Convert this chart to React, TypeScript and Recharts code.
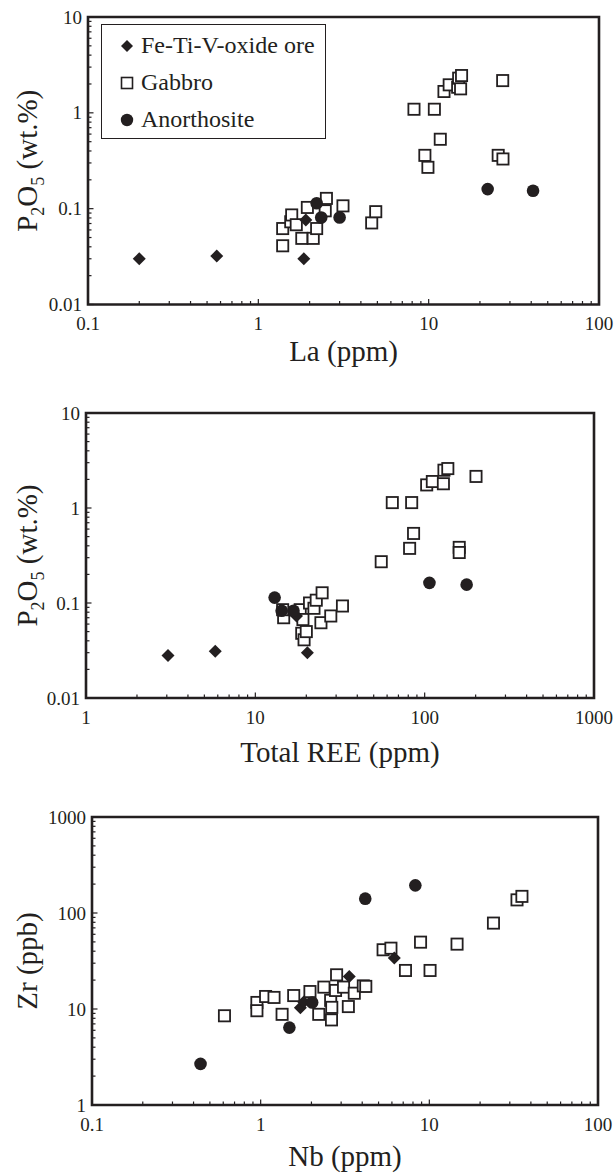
import React from "react";
import { ScatterChart, Scatter, XAxis, YAxis, ReferenceArea, Legend } from "recharts";

const INK = "#231f20";
const SERIF = '"Liberation Serif", "Times New Roman", serif';

const seriesNames = ["Fe-Ti-V-oxide ore", "Gabbro", "Anorthosite"];

// panel 1: La (ppm) vs P2O5 (wt.%)
const oreLa = [
  { x: 0.2, y: 0.03 }, { x: 0.57, y: 0.032 }, { x: 1.85, y: 0.03 }, { x: 1.9, y: 0.076 },
];
const gabbroLa = [
  { x: 1.39, y: 0.062 }, { x: 1.39, y: 0.041 }, { x: 1.55, y: 0.073 }, { x: 1.57, y: 0.086 },
  { x: 1.67, y: 0.068 }, { x: 1.8, y: 0.049 }, { x: 1.94, y: 0.103 }, { x: 2.1, y: 0.049 },
  { x: 2.2, y: 0.062 }, { x: 2.47, y: 0.095 }, { x: 2.51, y: 0.128 }, { x: 3.14, y: 0.107 },
  { x: 4.63, y: 0.071 }, { x: 4.89, y: 0.093 },
  { x: 8.2, y: 1.09 }, { x: 10.8, y: 1.09 }, { x: 11.7, y: 0.53 }, { x: 9.5, y: 0.36 },
  { x: 9.9, y: 0.27 }, { x: 12.3, y: 1.67 }, { x: 13.2, y: 1.96 }, { x: 14.8, y: 1.85 },
  { x: 15.0, y: 2.3 }, { x: 15.6, y: 2.45 }, { x: 15.4, y: 1.78 }, { x: 27.2, y: 2.17 },
  { x: 25.6, y: 0.36 }, { x: 27.3, y: 0.33 },
];
const anoLa = [
  { x: 2.2, y: 0.114 }, { x: 2.34, y: 0.081 }, { x: 3.0, y: 0.081 }, { x: 22.2, y: 0.16 }, { x: 41, y: 0.154 },
];

// panel 2: Total REE (ppm) vs P2O5 (wt.%)
const oreRee = [
  { x: 3.05, y: 0.028 }, { x: 5.8, y: 0.031 }, { x: 20.3, y: 0.03 }, { x: 17.5, y: 0.073 },
];
const gabbroRee = [
  { x: 14.7, y: 0.07 }, { x: 14.5, y: 0.085 }, { x: 18.4, y: 0.085 }, { x: 19.1, y: 0.067 },
  { x: 18.8, y: 0.048 }, { x: 19.4, y: 0.041 }, { x: 20, y: 0.05 }, { x: 20.9, y: 0.1 },
  { x: 22.2, y: 0.088 }, { x: 22.9, y: 0.107 }, { x: 24.8, y: 0.128 }, { x: 24.4, y: 0.062 },
  { x: 27.9, y: 0.073 }, { x: 32.7, y: 0.093 },
  { x: 64.4, y: 1.14 }, { x: 83.8, y: 1.14 }, { x: 86, y: 0.54 }, { x: 81.5, y: 0.376 },
  { x: 55.4, y: 0.272 }, { x: 102.8, y: 1.75 }, { x: 111, y: 1.9 }, { x: 129, y: 1.8 },
  { x: 130, y: 2.5 }, { x: 137, y: 2.6 }, { x: 201, y: 2.15 }, { x: 160, y: 0.385 }, { x: 160, y: 0.34 },
];
const anoRee = [
  { x: 13, y: 0.114 }, { x: 14.3, y: 0.083 }, { x: 16.8, y: 0.083 }, { x: 106.7, y: 0.163 }, { x: 177, y: 0.156 },
];

// panel 3: Nb (ppm) vs Zr (ppb)
const oreNb = [
  { x: 1.72, y: 10.3 }, { x: 1.8, y: 11.8 }, { x: 3.35, y: 21.8 }, { x: 6.2, y: 34 },
];
const gabbroNb = [
  { x: 0.61, y: 8.5 }, { x: 0.95, y: 11.7 }, { x: 0.95, y: 9.6 }, { x: 1.07, y: 13.5 },
  { x: 1.2, y: 13.2 }, { x: 1.34, y: 8.8 }, { x: 1.57, y: 13.8 }, { x: 1.96, y: 15.2 },
  { x: 2.21, y: 8.8 }, { x: 2.37, y: 16.9 }, { x: 2.6, y: 12.3 }, { x: 2.64, y: 10.4 },
  { x: 2.63, y: 7.7 }, { x: 2.82, y: 22.7 }, { x: 2.78, y: 15.6 }, { x: 3.1, y: 16.9 },
  { x: 3.31, y: 10.6 }, { x: 3.59, y: 14.6 }, { x: 4.06, y: 17.4 }, { x: 4.2, y: 17.2 },
  { x: 5.32, y: 41.4 }, { x: 5.92, y: 43 }, { x: 7.22, y: 25.2 }, { x: 8.87, y: 49.7 },
  { x: 10.1, y: 25.2 }, { x: 14.6, y: 47.4 }, { x: 24, y: 78.5 }, { x: 33.1, y: 137 }, { x: 35.4, y: 149 },
];
const anoNb = [
  { x: 0.44, y: 2.68 }, { x: 1.48, y: 6.4 }, { x: 2.02, y: 11.7 }, { x: 4.17, y: 141 }, { x: 8.26, y: 194 },
];

// axis ticks (labelled decades)
const laTicks = [0.1, 1, 10, 100];
const reeTicks = [1, 10, 100, 1000];
const nbTicks = [0.1, 1, 10, 100];
const p2o5Ticks = [0.01, 0.1, 1, 10];
const zrTicks = [1, 10, 100, 1000];
const minorSteps = [2, 3, 4, 5, 6, 7, 8, 9];

const TICK_FS = 19;
const TITLE_FS = 29;

const withMinor = (majors: number[]) => {
  const out: number[] = [];
  majors.forEach((m, i) => {
    out.push(m);
    if (i < majors.length - 1) minorSteps.forEach((s) => out.push(+(m * s).toPrecision(6)));
  });
  return out;
};

const makeXTick = (majors: number[]) => (props: any) => {
  const { x, y, payload } = props;
  const major = majors.includes(payload.value);
  const label = String(payload.value);
  const half = (label.length * 0.5 * TICK_FS) / 2;
  const tx = Math.min(x, 614 - half);
  return (
    <g>
      <line x1={x} x2={x} y1={y} y2={y - (major ? 5.5 : 3.5)} stroke={INK} strokeWidth={1.2} />
      {major && (
        <text x={tx} y={y + 25.5} textAnchor="middle" fontFamily={SERIF} fontSize={TICK_FS} fill={INK}>
          {label}
        </text>
      )}
    </g>
  );
};

const makeYTick = (majors: number[]) => (props: any) => {
  const { x, y, payload } = props;
  const major = majors.includes(payload.value);
  return (
    <g>
      <line x1={x} x2={x + (major ? 5.5 : 3.5)} y1={y} y2={y} stroke={INK} strokeWidth={1.2} />
      {major && (
        <text x={x - 6} y={y + 6.5} textAnchor="end" fontFamily={SERIF} fontSize={TICK_FS} fill={INK}>
          {payload.value}
        </text>
      )}
    </g>
  );
};

const Square = (p: any) => (
  <rect x={p.cx - 5.6} y={p.cy - 5.6} width={11.2} height={11.2} fill="#fff" stroke={INK} strokeWidth={1.8} />
);
const Dot = (p: any) => <circle cx={p.cx} cy={p.cy} r={6.3} fill={INK} />;
const Diamond = (p: any) => (
  <polygon
    points={`${p.cx},${p.cy - 6.5} ${p.cx + 6.5},${p.cy} ${p.cx},${p.cy + 6.5} ${p.cx - 6.5},${p.cy}`}
    fill={INK}
  />
);

const legendIcons = [
  <polygon key="d" points="8,2 14,8 8,14 2,8" fill={INK} />,
  <rect key="s" x={2.5} y={2.5} width={11} height={11} fill="#fff" stroke={INK} strokeWidth={1.6} />,
  <circle key="c" cx={8} cy={8} r={6.2} fill={INK} />,
];

const LegendBox = () => (
  <div
    style={{
      border: `1.3px solid ${INK}`,
      width: 225,
      height: 115,
      boxSizing: "border-box",
      fontFamily: SERIF,
      fontSize: 24,
      color: INK,
      padding: "2px 0 0 17px",
      background: "#fff",
    }}
  >
    {seriesNames.map((name, i) => (
      <div key={name} style={{ display: "flex", alignItems: "center", height: 37 }}>
        <svg width={16} height={16}>{legendIcons[i]}</svg>
        <span style={{ marginLeft: 6 }}>{name}</span>
      </div>
    ))}
  </div>
);

type Pt = { x: number; y: number };

type PanelProps = {
  top: number;
  plotTop: number;
  plotBottom: number;
  plotLeft: number;
  plotRight: number;
  xTicks: number[];
  yTicks: number[];
  xTitle: string;
  xTitleGap: number;
  yTitle: React.ReactNode;
  ore: Pt[];
  gabbro: Pt[];
  ano: Pt[];
  legend?: boolean;
};

function Panel(props: PanelProps) {
  const { top, plotTop, plotBottom, plotLeft, plotRight, xTicks, yTicks, xTitle, xTitleGap, yTitle, ore, gabbro, ano, legend } = props;
  const xd = [xTicks[0], xTicks[xTicks.length - 1]];
  const yd = [yTicks[0], yTicks[yTicks.length - 1]];
  const xAxisHeight = 76;
  return (
    <div style={{ position: "absolute", left: 0, top }}>
      <ScatterChart
        width={616}
        height={plotBottom + xAxisHeight}
        margin={{ top: plotTop, right: 616 - plotRight, bottom: 0, left: 0 }}
      >
        <XAxis
          type="number"
          dataKey="x"
          scale="log"
          domain={xd}
          allowDataOverflow
          ticks={withMinor(xTicks)}
          interval={0}
          tick={makeXTick(xTicks)}
          tickLine={false}
          tickSize={0}
          tickMargin={0}
          axisLine={false}
          height={xAxisHeight}
          label={(lp: any) => {
            const vb = lp.viewBox;
            return (
              <text
                x={vb.x + vb.width / 2}
                y={vb.y + xTitleGap}
                textAnchor="middle"
                fontFamily={SERIF}
                fontSize={TITLE_FS}
                fill={INK}
              >
                {xTitle}
              </text>
            );
          }}
        />
        <YAxis
          type="number"
          dataKey="y"
          scale="log"
          domain={yd}
          allowDataOverflow
          ticks={withMinor(yTicks)}
          interval={0}
          tick={makeYTick(yTicks)}
          tickLine={false}
          tickSize={0}
          tickMargin={0}
          axisLine={false}
          width={plotLeft}
          label={(lp: any) => {
            const vb = lp.viewBox;
            const cx = 37;
            const cy = vb.y + vb.height / 2;
            return (
              <text
                x={cx}
                y={cy}
                transform={`rotate(-90 ${cx} ${cy})`}
                textAnchor="middle"
                fontFamily={SERIF}
                fontSize={TITLE_FS}
                fill={INK}
              >
                {yTitle}
              </text>
            );
          }}
        />
        <ReferenceArea x1={xd[0]} x2={xd[1]} y1={yd[0]} y2={yd[1]} fill="none" stroke={INK} strokeWidth={2.6} />
        <Scatter name={seriesNames[1]} data={gabbro} shape={Square} isAnimationActive={false} />
        <Scatter name={seriesNames[0]} data={ore} shape={Diamond} isAnimationActive={false} />
        <Scatter name={seriesNames[2]} data={ano} shape={Dot} isAnimationActive={false} />
        {legend && (
          <Legend
            layout="vertical"
            align="center"
            verticalAlign="middle"
            content={() => <LegendBox />}
            wrapperStyle={{ position: "absolute", left: 101, top: 24, width: 225, height: 115 }}
          />
        )}
      </ScatterChart>
    </div>
  );
}

const p2o5Title = (
  <>
    <tspan>P</tspan>
    <tspan fontSize={18} dy={7}>2</tspan>
    <tspan dy={-7}>O</tspan>
    <tspan fontSize={18} dy={7}>5</tspan>
    <tspan dy={-7}> (wt.%)</tspan>
  </>
);

export default function App() {
  return (
    <div style={{ position: "absolute", left: 0, top: 0, width: 616, height: 1174, background: "#fff", overflow: "hidden" }}>
      <Panel
        top={0}
        plotTop={17}
        plotBottom={304.5}
        plotLeft={88}
        plotRight={599}
        xTicks={laTicks}
        yTicks={p2o5Ticks}
        xTitle="La (ppm)"
        xTitleGap={56}
        yTitle={p2o5Title}
        ore={oreLa}
        gabbro={gabbroLa}
        ano={anoLa}
        legend
      />
      <Panel
        top={390}
        plotTop={23}
        plotBottom={308}
        plotLeft={86}
        plotRight={594}
        xTicks={reeTicks}
        yTicks={p2o5Ticks}
        xTitle="Total REE (ppm)"
        xTitleGap={64}
        yTitle={p2o5Title}
        ore={oreRee}
        gabbro={gabbroRee}
        ano={anoRee}
      />
      <Panel
        top={790}
        plotTop={27}
        plotBottom={315}
        plotLeft={92}
        plotRight={598}
        xTicks={nbTicks}
        yTicks={zrTicks}
        xTitle="Nb (ppm)"
        xTitleGap={61}
        yTitle="Zr (ppb)"
        ore={oreNb}
        gabbro={gabbroNb}
        ano={anoNb}
      />
    </div>
  );
}
